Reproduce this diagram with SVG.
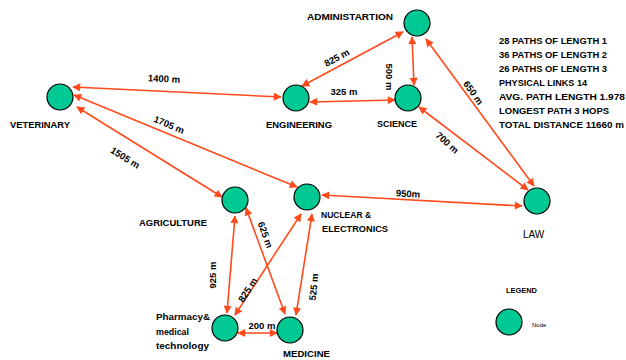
<svg xmlns="http://www.w3.org/2000/svg" width="626" height="360" viewBox="0 0 626 360">
<style>
.n{fill:#00C994;stroke:#000;stroke-width:1.2}
.e{stroke:#FF4A1C;stroke-width:1.6;fill:none;marker-start:url(#ah);marker-end:url(#ah)}
.t{font-family:"Liberation Sans",Arial,sans-serif;font-weight:bold;font-size:8.5px;fill:#000}
.el{font-family:"Liberation Sans",Arial,sans-serif;font-weight:bold;font-size:9.5px;fill:#000;text-anchor:middle}
.s{font-family:"Liberation Sans",Arial,sans-serif;font-weight:bold;font-size:9.5px;fill:#000}
</style>
<defs>
<marker id="ah" viewBox="0 0 10 10" refX="9" refY="5" markerWidth="10" markerHeight="8" markerUnits="userSpaceOnUse" orient="auto-start-reverse">
<path d="M0,0 L10,5 L0,10 Z" fill="#FF4A1C"/>
</marker>
</defs>
<g id="connectors">
<line class="e" x1="73" y1="87" x2="281" y2="97"/>
<line class="e" x1="74" y1="95" x2="297" y2="187"/>
<line class="e" x1="77" y1="107" x2="222" y2="197"/>
<line class="e" x1="302" y1="86" x2="403" y2="32"/>
<line class="e" x1="310" y1="102" x2="395" y2="100"/>
<line class="e" x1="414" y1="85" x2="412" y2="37"/>
<line class="e" x1="426" y1="39" x2="534" y2="186"/>
<line class="e" x1="419" y1="107" x2="528" y2="190"/>
<line class="e" x1="322" y1="195" x2="522" y2="206"/>
<line class="e" x1="235" y1="216" x2="227" y2="313"/>
<line class="e" x1="246" y1="208" x2="285" y2="314"/>
<line class="e" x1="301" y1="214" x2="235" y2="315"/>
<line class="e" x1="312" y1="214" x2="296" y2="315"/>
<line class="e" x1="238" y1="333" x2="277" y2="333"/>
<text class="el" x="164" y="82" transform="rotate(3 164 79)">1400 m</text>
<text class="el" x="169" y="128" transform="rotate(23 169 125)">1705 m</text>
<text class="el" x="125" y="161" transform="rotate(32 125 158)">1505 m</text>
<text class="el" x="337" y="61" transform="rotate(-28 337 58)">825 m</text>
<text class="el" x="344" y="95">325 m</text>
<text class="el" x="389" y="80" transform="rotate(90 389 77)">500 m</text>
<text class="el" x="473" y="96" transform="rotate(55 473 93)">650 m</text>
<text class="el" x="447" y="146" transform="rotate(42 447 143)">700 m</text>
<text class="el" x="408" y="197" transform="rotate(3 408 194)">950m</text>
<text class="el" x="213" y="278" transform="rotate(-90 213 275)">925 m</text>
<text class="el" x="265" y="238" transform="rotate(70 265 235)">625 m</text>
<text class="el" x="248" y="293" transform="rotate(-57 248 290)">825 m</text>
<text class="el" x="314" y="290" transform="rotate(-84 314 287)">525 m</text>
<text class="el" x="262" y="329">200 m</text>
</g>
<g id="administration"><circle class="n" cx="417" cy="23" r="13"/><text class="t" x="307" y="20" textLength="86" lengthAdjust="spacingAndGlyphs">ADMINISTARTION</text></g>
<g id="veterinary"><circle class="n" cx="60" cy="97" r="13"/><text class="t" x="10" y="128" textLength="60" lengthAdjust="spacingAndGlyphs">VETERINARY</text></g>
<g id="engineering"><circle class="n" cx="296" cy="98" r="13"/><text class="t" x="266" y="128" textLength="66" lengthAdjust="spacingAndGlyphs">ENGINEERING</text></g>
<g id="science"><circle class="n" cx="408" cy="98" r="13"/><text class="t" x="377" y="127" textLength="40" lengthAdjust="spacingAndGlyphs">SCIENCE</text></g>
<g id="law"><circle class="n" cx="537" cy="201" r="13"/><text class="t" x="523" y="238" style="font-weight:normal;font-size:10px">LAW</text></g>
<g id="agriculture"><circle class="n" cx="235" cy="200" r="13"/><text class="t" x="139" y="226" textLength="68" lengthAdjust="spacingAndGlyphs">AGRICULTURE</text></g>
<g id="nuclear"><circle class="n" cx="307" cy="197" r="13"/><text class="t" x="321" y="218">NUCLEAR &amp;</text><text class="t" x="322" y="232" textLength="66" lengthAdjust="spacingAndGlyphs">ELECTRONICS</text></g>
<g id="pharmacy"><circle class="n" cx="225" cy="328" r="13"/><text class="t" x="156" y="320" textLength="54" lengthAdjust="spacingAndGlyphs">Pharmacy&amp;</text><text class="t" x="156" y="335" textLength="33" lengthAdjust="spacingAndGlyphs">medical</text><text class="t" x="156" y="349" textLength="53" lengthAdjust="spacingAndGlyphs">technology</text></g>
<g id="medicine"><circle class="n" cx="290" cy="330" r="13"/><text class="t" x="283" y="357" textLength="47" lengthAdjust="spacingAndGlyphs">MEDICINE</text></g>
<g id="legend"><text class="t" x="506" y="293" style="font-size:6.5px" textLength="31" lengthAdjust="spacingAndGlyphs">LEGEND</text><circle class="n" cx="509" cy="322" r="13"/><text class="t" x="532" y="327" style="font-size:6px;font-weight:normal">Node</text></g>
<g id="stats">
<text class="s" x="499" y="44" textLength="108" lengthAdjust="spacingAndGlyphs">28 PATHS OF LENGTH 1</text>
<text class="s" x="499" y="58" textLength="108" lengthAdjust="spacingAndGlyphs">36 PATHS OF LENGTH 2</text>
<text class="s" x="499" y="72" textLength="108" lengthAdjust="spacingAndGlyphs">26 PATHS OF LENGTH 3</text>
<text class="s" x="499" y="86" textLength="88" lengthAdjust="spacingAndGlyphs">PHYSICAL LINKS 14</text>
<text class="s" x="499" y="100" textLength="126" lengthAdjust="spacingAndGlyphs">AVG. PATH  LENGTH 1.978</text>
<text class="s" x="499" y="114" textLength="110" lengthAdjust="spacingAndGlyphs">LONGEST  PATH 3 HOPS</text>
<text class="s" x="499" y="128" textLength="125" lengthAdjust="spacingAndGlyphs">TOTAL DISTANCE 11660 m</text>
</g>
</svg>
